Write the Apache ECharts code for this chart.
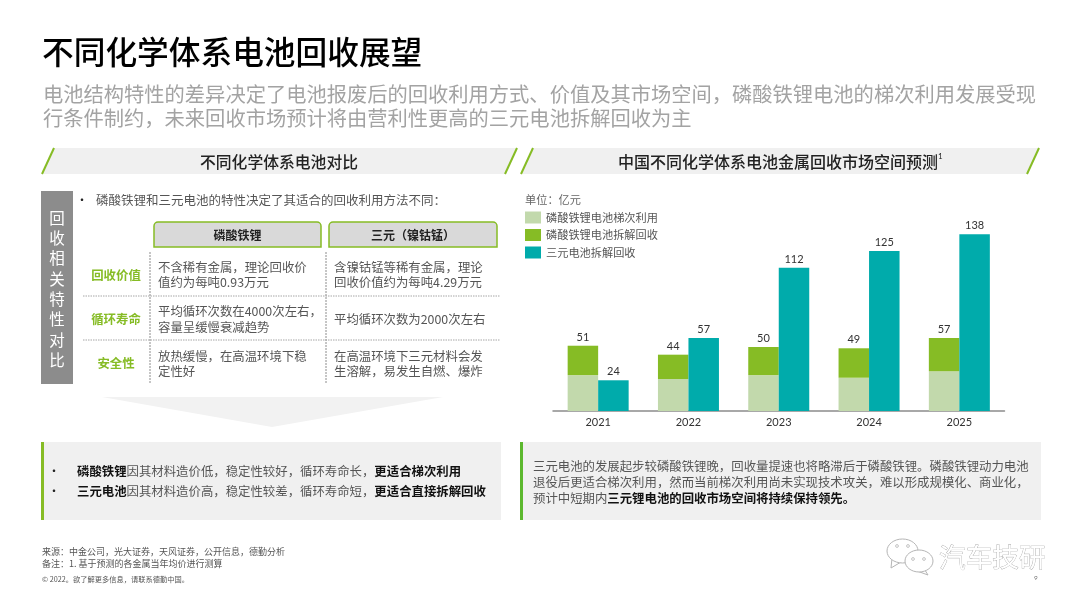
<!DOCTYPE html>
<html>
<head>
<meta charset="utf-8">
<title>不同化学体系电池回收展望</title>
<style>
html, body { margin: 0; padding: 0; background: #fff; }
#main { width: 1080px; height: 607px; }
</style>
<script src="https://cdn.jsdelivr.net/npm/echarts@6/dist/echarts.min.js"></script>
</head>
<body>
<div id="main"></div>
<script>
// chart data, unit 亿元
var categories = ['2021', '2022', '2023', '2024', '2025'];
var lfpReuse = [28, 25, 28, 26, 31];
var lfpRecycle = [23, 19, 22, 23, 26];
var lfpTotals = [51, 44, 50, 49, 57];
var ncmRecycle = [24, 57, 112, 125, 138];
var seriesNames = ['磷酸铁锂电池梯次利用', '磷酸铁锂电池拆解回收', '三元电池拆解回收'];

var FONT = '"Noto Sans CJK SC", sans-serif';
var NUM_FONT = 'Lato, "Noto Sans CJK SC", sans-serif';
var GREEN = '#86bc25';
var TEAL = '#00abab';
var LIGHT = '#c2d9ac';

var shapes = [];

// text helper, every slide text goes through here
function txt(x, y, str, size, color, opt) {
    opt = opt || {};
    var style = {
        x: x, y: y, text: str, fontSize: size, fontFamily: opt.family || FONT,
        fontWeight: opt.weight || 'normal', fill: color,
        align: opt.align || 'left', verticalAlign: 'middle'
    };
    if (opt.stroke) { style.stroke = opt.stroke; style.lineWidth = opt.strokeWidth || 1; }
    if (opt.rich) { style.rich = opt.rich; }
    shapes.push({ type: 'text', silent: true, z: 10, style: style });
}
function rect(x, y, w, h, fill, r) {
    shapes.push({ type: 'rect', silent: true, shape: { x: x, y: y, width: w, height: h, r: r || 0 }, style: { fill: fill } });
}
function line(x1, y1, x2, y2, color, width, dash) {
    shapes.push({
        type: 'line', silent: true, z: 2,
        shape: { x1: x1, y1: y1, x2: x2, y2: y2 },
        style: { stroke: color, lineWidth: width, lineDash: dash || null }
    });
}
function header(x1, x2, textX, str, size) {
    // parallelogram band with a green slash on both ends
    shapes.push({
        type: 'polygon', silent: true,
        shape: { points: [[x1, 174], [x1 + 12, 148], [x2, 148], [x2 - 12, 174]] },
        style: { fill: '#f0f0f0' }
    });
    line(x1, 174, x1 + 12, 148, GREEN, 2);
    line(x2 - 12, 174, x2, 148, GREEN, 2);
    txt(textX, 162, str, size, '#222', { align: 'center', weight: 500 });
}

// 标题
txt(42, 52, '不同化学体系电池回收展望', 31.7, '#000', { weight: 500 });
txt(43, 94, '电池结构特性的差异决定了电池报废后的回收利用方式、价值及其市场空间，磷酸铁锂电池的梯次利用发展受现', 20.27, '#a3a3a3');
txt(43, 118, '行条件制约，未来回收市场预计将由营利性更高的三元电池拆解回收为主', 20.27, '#a3a3a3');

header(42, 517, 279, '不同化学体系电池对比', 15.8);
header(521, 1039, 778, '中国不同化学体系电池金属回收市场空间预测', 16);
txt(938, 156, '1', 8, '#222', { family: NUM_FONT });

// 左侧表格
rect(41, 191, 32, 193, '#8c8c8c');
var sideWords = ['回', '收', '相', '关', '特', '性', '对', '比'];
for (var i = 0; i < sideWords.length; i++) {
    txt(57, 218 + i * 20.3, sideWords[i], 15.5, '#fff', { align: 'center' });
}
txt(82, 200, '•', 12, '#222', { align: 'center' });
txt(96, 200, '磷酸铁锂和三元电池的特性决定了其适合的回收利用方法不同：', 12.5, '#555');

[[154, 167, '磷酸铁锂'], [329, 168, '三元（镍钴锰）']].forEach(function (h) {
    shapes.push({
        type: 'rect', silent: true,
        shape: { x: h[0], y: 222, width: h[1], height: 25, r: [4, 4, 0, 0] },
        style: { fill: '#d9d9d9', stroke: GREEN, lineWidth: 1.5 }
    });
    txt(h[0] + h[1] / 2, 235, h[2], 12, '#222', { align: 'center', weight: 'bold' });
});

line(150, 252, 150, 384, '#8c8c8c', 1, [2, 1]);
line(326, 252, 326, 384, '#8c8c8c', 1, [2, 1]);
line(83, 296, 500, 296, '#a6a6a6', 1, [1.5, 1]);
line(83, 340, 500, 340, '#a6a6a6', 1, [1.5, 1]);

var rowNames = ['回收价值', '循环寿命', '安全性'];
var rowY = [275, 319, 363];
rowNames.forEach(function (n, k) {
    txt(116, rowY[k], n, 12.4, GREEN, { align: 'center', weight: 'bold' });
});
var cells = [
    [158, 267, '不含稀有金属，理论回收价'], [158, 282, '值约为每吨0.93万元'],
    [158, 311, '平均循环次数在4000次左右，'], [158, 327, '容量呈缓慢衰减趋势'],
    [158, 356, '放热缓慢，在高温环境下稳'], [158, 371, '定性好'],
    [334, 267, '含镍钴锰等稀有金属，理论'], [334, 282, '回收价值约为每吨4.29万元'],
    [334, 319, '平均循环次数为2000次左右'],
    [334, 356, '在高温环境下三元材料会发'], [334, 371, '生溶解，易发生自燃、爆炸']
];
cells.forEach(function (c) { txt(c[0], c[1], c[2], 12.4, '#555'); });

// 箭头
shapes.push({
    type: 'polygon', silent: true,
    shape: { points: [[102, 397], [443, 397], [272, 427]] },
    style: { fill: '#f2f2f2' }
});

// 底部说明
var bold = { b: { fontSize: 12.4, fontFamily: FONT, fontWeight: 'bold', fill: '#111' } };
rect(41, 442, 460, 78, '#f0f0f0');
rect(41, 442, 3, 78, GREEN);
txt(54, 471, '•', 12, '#222', { align: 'center' });
txt(54, 491, '•', 12, '#222', { align: 'center' });
txt(77, 471, '{b|磷酸铁锂}因其材料造价低，稳定性较好，循环寿命长，{b|更适合梯次利用}', 12.4, '#555', { rich: bold });
txt(77, 491, '{b|三元电池}因其材料造价高，稳定性较差，循环寿命短，{b|更适合直接拆解回收}', 12.4, '#555', { rich: bold });

rect(520, 442, 521, 78, '#f0f0f0');
rect(520, 442, 3, 78, '#5cb82e');
txt(533, 466, '三元电池的发展起步较磷酸铁锂晚，回收量提速也将略滞后于磷酸铁锂。磷酸铁锂动力电池', 12.4, '#555');
txt(533, 482, '退役后更适合梯次利用，然而当前梯次利用尚未实现技术攻关，难以形成规模化、商业化，', 12.4, '#555');
txt(533, 498, '预计中短期内{b|三元锂电池的回收市场空间将持续保持领先。}', 12.4, '#555', { rich: bold });

// 脚注
txt(42, 552, '来源：中金公司，光大证券，天风证券，公开信息，德勤分析', 9, '#555');
txt(42, 564, '备注：1. 基于预测的各金属当年均价进行测算', 9, '#555');
txt(42, 579, '© 2022。欲了解更多信息，请联系德勤中国。', 7.25, '#555');
txt(1036, 578, '9', 6.5, '#777', { align: 'center', family: NUM_FONT });

// 水印
var WM = '#b5b5b5';
shapes.push({ type: 'polygon', silent: true, z: 5, shape: { points: [[892, 558], [891, 568], [901, 562]] }, style: { fill: '#fff', stroke: WM, lineWidth: 1 } });
shapes.push({ type: 'ellipse', silent: true, z: 5, shape: { cx: 902.5, cy: 551, rx: 15.5, ry: 12 }, style: { fill: '#fff', stroke: WM, lineWidth: 1 } });
shapes.push({ type: 'polygon', silent: true, z: 6, shape: { points: [[923, 567], [928, 575], [917, 571]] }, style: { fill: '#fff', stroke: WM, lineWidth: 1 } });
shapes.push({ type: 'ellipse', silent: true, z: 6, shape: { cx: 919, cy: 561, rx: 14, ry: 11 }, style: { fill: '#fff', stroke: WM, lineWidth: 1 } });
[[897, 546], [908, 546], [913, 559], [924, 559]].forEach(function (d) {
    shapes.push({ type: 'circle', silent: true, z: 7, shape: { cx: d[0], cy: d[1], r: 1.4 }, style: { fill: '#fff', stroke: WM, lineWidth: 0.8 } });
});
txt(939, 557, '汽车技研', 26.7, '#fff', { stroke: '#a0a0a0', strokeWidth: 0.7 });

// 图表单位
txt(525, 200, '单位：亿元', 11.2, '#666');

var option = {
    animation: false,
    backgroundColor: '#fff',
    graphic: { elements: shapes },
    legend: {
        left: 525,
        top: 211.5,
        padding: 0,
        orient: 'vertical',
        itemWidth: 16,
        itemHeight: 12,
        itemGap: 5.5,
        selectedMode: false,
        icon: 'rect',
        data: seriesNames,
        textStyle: { fontSize: 11.2, color: '#555', fontFamily: FONT }
    },
    grid: { left: 553, width: 451.5, top: 219, height: 192 },
    xAxis: {
        type: 'category',
        data: categories,
        axisTick: { show: false },
        axisLine: { lineStyle: { color: '#8c8c8c', width: 1.5 } },
        axisLabel: { fontSize: 11, color: '#333', margin: 6, fontFamily: NUM_FONT }
    },
    yAxis: { type: 'value', min: 0, max: 150, show: false },
    series: [
        {
            name: seriesNames[0], type: 'bar', stack: 'lfp', barWidth: 30.5, barGap: '0%',
            data: lfpReuse, itemStyle: { color: LIGHT }
        },
        {
            name: seriesNames[1], type: 'bar', stack: 'lfp', barWidth: 30.5,
            data: lfpRecycle, itemStyle: { color: GREEN },
            label: {
                show: true, position: 'top', distance: 3, fontSize: 11, color: '#333', fontFamily: NUM_FONT,
                formatter: function (p) { return lfpTotals[p.dataIndex]; }
            }
        },
        {
            name: seriesNames[2], type: 'bar', barWidth: 30.5,
            data: ncmRecycle, itemStyle: { color: TEAL },
            label: { show: true, position: 'top', distance: 3, fontSize: 11, color: '#333', fontFamily: NUM_FONT }
        }
    ]
};
var myChart = echarts.init(document.getElementById('main'));
myChart.setOption(option);
</script>
</body>
</html>
